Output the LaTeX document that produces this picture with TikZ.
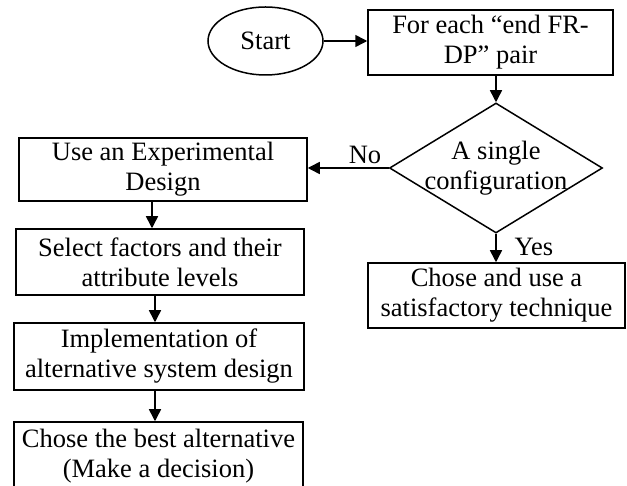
\documentclass[tikz,border=0pt]{standalone}
\usepackage{fontspec}
\setmainfont{Liberation Serif}
\usetikzlibrary{shapes.geometric,arrows.meta,calc}
\tikzset{
  txt/.style={font=\fontsize{26.5}{30}\selectfont},
  box/.style={draw, line width=1.5pt, rectangle, inner sep=0pt, align=center, txt},
  arr/.style={line width=1.5pt, -{Triangle[length=12pt,width=12pt]}},
  lbl/.style={txt, inner sep=0pt},
}
\begin{document}
\begin{tikzpicture}[x=1pt,y=-1pt]
\clip (0,0) rectangle (627,486);
\fill[white] (0,0) rectangle (627,486);
\node[draw, line width=1.5pt, ellipse, minimum width=115pt, minimum height=68pt, inner sep=0pt, txt] (start) at (265.5,41) {Start};
\node[box, minimum width=245pt, minimum height=65pt] (forbox) at (490.5,42.5) {For each “end FR-\\DP” pair};
\node[draw, line width=1.5pt, diamond, minimum width=213pt, minimum height=130pt, inner sep=0pt] (dec) at (496,168) {};
\node[lbl, align=center] (dectext) at (dec.center) {A single\\configuration};
\node[box, minimum width=257pt, minimum height=65pt] (satbox) at (496.5,295.5) {Chose and use a\\satisfactory technique};
\node[box, minimum width=288pt, minimum height=63pt] (usebox) at (163,169.5) {Use an Experimental\\Design};
\node[box, minimum width=288pt, minimum height=66pt] (selbox) at (160,262) {Select factors and their\\attribute levels};
\node[box, minimum width=290pt, minimum height=67pt] (impbox) at (159,356.5) {Implementation of\\alternative system design};
\node[box, minimum width=289pt, minimum height=68pt] (bestbox) at (158.5,456) {Chose the best alternative\\(Make a decision)};
\node[lbl] (no) at (365,155) {No};
\node[lbl] (yes) at (534,247) {Yes};
\draw[arr] (start.east) -- (start.east -| forbox.west);
\draw[arr] (dec.north |- forbox.south) -- (dec.north);
\draw[arr] (dec.west) -- (dec.west -| usebox.east);
\draw[arr] (dec.south) -- (dec.south |- satbox.north);
\draw[arr] ([xshift=-11pt]usebox.south) -- ([xshift=-11pt]usebox.south |- selbox.north);
\draw[arr] ([xshift=-5pt]selbox.south) -- ([xshift=-5pt]selbox.south |- impbox.north);
\draw[arr] ([xshift=-4pt]impbox.south) -- ([xshift=-4pt]impbox.south |- bestbox.north);
\end{tikzpicture}
\end{document}
